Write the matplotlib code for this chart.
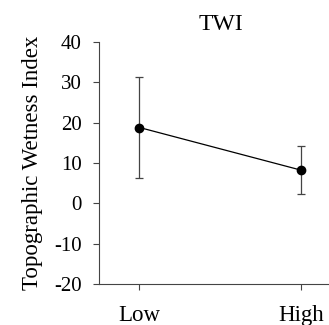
import matplotlib
matplotlib.use("Agg")
import matplotlib.pyplot as plt

categories = ["Low", "High"]
means = [18.8, 8.2]
lower = [6.2, 2.3]
upper = [31.3, 14.1]
yticks = [-20, -10, 0, 10, 20, 30, 40]

plt.rcParams['font.family'] = ['Liberation Serif', 'DejaVu Serif']

fig = plt.figure(figsize=(3.29, 3.25), dpi=100)
ax = fig.add_axes([99/329, 41/325, 230/329, 242/325])
x = list(range(len(categories)))
yerr = [[m - l for m, l in zip(means, lower)], [u - m for m, u in zip(means, upper)]]
ax.errorbar(x, means, yerr=yerr, fmt='-o', color='black', ecolor='#444444',
            elinewidth=0.9, capsize=3, capthick=0.9, markersize=6, linewidth=0.9)
ax.set_xlim(-0.25, 1.17)
ax.set_ylim(-20, 40)
ax.set_yticks(yticks)
ax.set_yticklabels([str(t) for t in yticks], fontsize=15)
ax.set_xticks(x)
ax.set_xticklabels(categories, fontsize=16.5)
ax.tick_params(axis='x', pad=11, length=4, color='#444444')
ax.tick_params(axis='y', length=4.3, color='#444444', pad=8)
for s in ['top', 'right']:
    ax.spines[s].set_visible(False)
for s in ['left', 'bottom']:
    ax.spines[s].set_color('#444444')
ax.set_ylabel("Topographic Wetness Index", fontsize=16.5, labelpad=8)
fig.text(221/329, 1 - 24/325, "TWI", fontsize=17, ha='center', va='center')
fig.savefig("out.png", dpi=100)
